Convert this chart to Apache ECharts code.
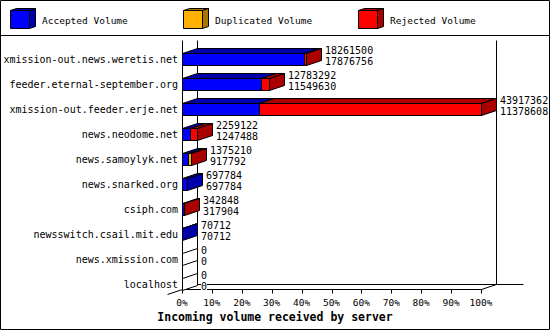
<!DOCTYPE html>
<html><head><meta charset="utf-8">
<script src="https://cdn.jsdelivr.net/npm/echarts@6/dist/echarts.min.js"></script>
<style>html,body{margin:0;padding:0;background:#fff}#c{width:550px;height:330px}</style>
</head><body><div id="c"></div>
<script>
// ---- data ----
const hosts = [
  'xmission-out.news.weretis.net',
  'feeder.eternal-september.org',
  'xmission-out.feeder.erje.net',
  'news.neodome.net',
  'news.samoylyk.net',
  'news.snarked.org',
  'csiph.com',
  'newsswitch.csail.mit.edu',
  'news.xmission.com',
  'localhost'
];
const totalVolume      = [18261500, 12783292, 43917362, 2259122, 1375210, 697784, 342848, 70712, 0, 0];
const acceptedVolume   = [17876756, 11549630, 11378608, 1247488,  917792, 697784, 317904, 70712, 0, 0];
const duplicatedVolume = [0, 0, 0, 0, 380000, 0, 0, 0, 0, 0];
const rejectedVolume   = [384744, 1233662, 32538754, 1011634, 77418, 0, 24944, 0, 0, 0];
const percentTicks = [0, 10, 20, 30, 40, 50, 60, 70, 80, 90, 100];
const seriesNames = ['Accepted Volume', 'Duplicated Volume', 'Rejected Volume'];
const axisTitle = 'Incoming volume received by server';

// ---- style ----
const frontColors = ['#0000ff', '#ffb000', '#ff0000'];
const sideColors  = ['#0000aa', '#aa7500', '#aa0000'];
const MONO = '"DejaVu Sans Mono", "Liberation Mono", monospace';
const DX = 15, DY = 5, HALF = 6;
const maxVolume = Math.max.apply(null, totalVolume);
const px = v => Math.round(v) + 0.5;
const LINE = {stroke: '#000', lineWidth: 1, fill: null};

function poly(points, fill) {
  return {type: 'polygon', shape: {points: points}, style: {fill: fill, stroke: '#000', lineWidth: 1}};
}
function seg(x1, y1, x2, y2) {
  return {type: 'line', shape: {x1: x1, y1: y1, x2: x2, y2: y2}, style: LINE};
}
function textEl(x, y, text, font, extra) {
  return {type: 'text', x: x, y: y, style: Object.assign({
    text: text, fill: '#000', font: font,
    align: 'left', textAlign: 'left', verticalAlign: 'middle', textVerticalAlign: 'middle'
  }, extra || {})};
}

function renderBar(params, api) {
  const i = params.dataIndex;
  const segs = [acceptedVolume[i], duplicatedVolume[i], rejectedVolume[i]];
  const c = api.coord([0, i]);
  const yT = px(c[1] - HALF), yB = px(c[1] + HALF);
  const children = [];
  let cum = 0, xs = px(c[0]), last = -1;
  segs.forEach((v, k) => {
    if (v <= 0) return;
    cum += v;
    const xe = px(api.coord([cum / maxVolume * 100, i])[0]);
    children.push({type: 'rect', shape: {x: xs, y: yT, width: xe - xs, height: yB - yT},
      style: {fill: frontColors[k], stroke: '#000', lineWidth: 1}});
    children.push(poly([[xs, yT], [xs + DX, yT - DY], [xe + DX, yT - DY], [xe, yT]], sideColors[k]));
    xs = xe; last = k;
  });
  const sideFill = last >= 0 ? sideColors[last] : '#fff';
  children.push(poly([[xs, yT], [xs + DX, yT - DY], [xs + DX, yB - DY], [xs, yB]], sideFill));
  children.push(textEl(Math.round(xs) + DX + 3, c[1] - 3.5,
    totalVolume[i] + '\n' + acceptedVolume[i], '10px ' + MONO,
    {lineHeight: 11, backgroundColor: '#fff'}));
  return {type: 'group', children: children};
}

function renderFrame(params, api) {
  const first = api.coord([0, 0]);
  const lastRow = api.coord([0, hosts.length - 1]);
  const x0 = px(first[0]);
  const x1 = px(api.coord([100, 0])[0]);
  const top = px(first[1] - 19);
  const floor = px(lastRow[1] + 5);
  const ch = [
    seg(x0, top, x0, floor),
    seg(x0 + DX, top, x0 + DX, floor - DY),
    seg(x1 + DX, top, x1 + DX, floor - DY),
    seg(x0, floor, x1, floor),
    seg(x0 - DX, floor + DY, x0 + DX, floor - DY),
    seg(x1, floor, x1 + DX, floor - DY),
    seg(x0 + DX, floor - DY, x1 + DX + 27, floor - DY)
  ];
  percentTicks.forEach(t => {
    const x = px(api.coord([t, 0])[0]);
    ch.push(seg(x, floor, x, floor + 4));
  });
  return {type: 'group', children: ch};
}

// legend cubes (decoration)
const legendX = [10, 183, 358];
const graphics = [
  {type: 'rect', shape: {x: 0.5, y: 0.5, width: 549, height: 329}, style: {fill: null, stroke: '#000', lineWidth: 1}, z: 100},
  {type: 'line', shape: {x1: 0, y1: 35.5, x2: 550, y2: 35.5}, style: LINE}
];
seriesNames.forEach((name, k) => {
  const x = legendX[k] + 0.5, y = 10.5, w = 19, h = 18;
  graphics.push({type: 'rect', shape: {x: x, y: y, width: w, height: h}, style: {fill: frontColors[k], stroke: '#000', lineWidth: 1}});
  graphics.push({type: 'polygon', shape: {points: [[x, y], [x + 6, y - 2], [x + w + 6, y - 2], [x + w, y]]}, style: {fill: sideColors[k], stroke: '#000', lineWidth: 1}});
  graphics.push({type: 'polygon', shape: {points: [[x + w, y], [x + w + 6, y - 2], [x + w + 6, y + h - 2], [x + w, y + h]]}, style: {fill: sideColors[k], stroke: '#000', lineWidth: 1}});
  graphics.push({type: 'text', x: legendX[k] + 32, y: 20, style: {text: name, fill: '#000', font: '9.5px ' + MONO, align: 'left', textAlign: 'left', verticalAlign: 'middle', textVerticalAlign: 'middle'}});
});

const chart = echarts.init(document.getElementById('c'), null, {renderer: 'svg'});
chart.setOption({
  animation: false,
  backgroundColor: '#fff',
  title: {text: axisTitle, left: 'center', top: 311, padding: 0,
    textStyle: {fontFamily: MONO, fontWeight: 'bold', fontSize: 11.5, color: '#000'}},
  grid: {left: 182, right: 69, top: 46.5, bottom: 33.5},
  xAxis: {type: 'value', min: 0, max: 100, interval: 10,
    axisLine: {show: false}, axisTick: {show: false}, splitLine: {show: false},
    axisLabel: {formatter: '{value}%', color: '#000', fontFamily: MONO, fontSize: 9.5, margin: 1}},
  yAxis: {type: 'category', inverse: true, data: hosts,
    axisLine: {show: false}, axisTick: {show: false}, splitLine: {show: false},
    axisLabel: {interval: 0, color: '#000', fontFamily: MONO, fontSize: 10, margin: 4}},
  graphic: graphics,
  series: [
    {type: 'custom', coordinateSystem: 'cartesian2d', clip: false, silent: true, z: 1,
      data: [[0, 0]], renderItem: renderFrame},
    {type: 'custom', coordinateSystem: 'cartesian2d', clip: false, silent: true, z: 2,
      encode: {x: 0, y: 1},
      data: hosts.map((h, i) => [totalVolume[i] / maxVolume * 100, i]),
      renderItem: renderBar}
  ]
});
</script></body></html>
